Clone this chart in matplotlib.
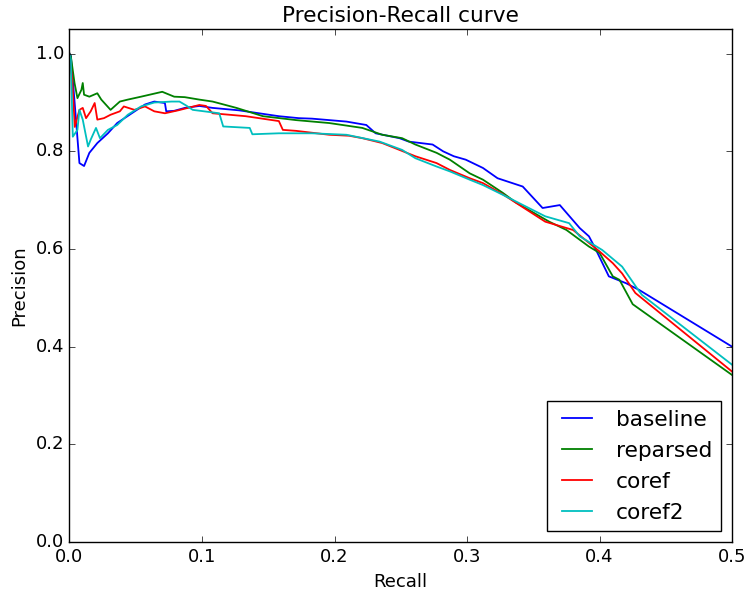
import matplotlib
matplotlib.use("Agg")
import matplotlib.pyplot as plt

plt.style.use("classic")
plt.rcParams["font.size"] = 13

labels = ["baseline", "reparsed", "coref", "coref2"]
colors = ["b", "g", "r", "c"]

baseline_r = [0.0, 0.001, 0.0025, 0.0075, 0.011, 0.015, 0.021, 0.029, 0.036, 0.047, 0.057, 0.064, 0.072,
              0.073, 0.079, 0.087, 0.098, 0.108, 0.128, 0.143, 0.158, 0.173, 0.183, 0.209, 0.224, 0.231,
              0.249, 0.256, 0.274, 0.282, 0.29, 0.299, 0.312, 0.323, 0.342, 0.357, 0.37, 0.385, 0.392,
              0.397, 0.407, 0.42, 0.43, 0.5]
baseline_p = [1.0, 0.996, 0.947, 0.776, 0.77, 0.797, 0.817, 0.837, 0.858, 0.878, 0.896, 0.902, 0.899,
              0.882, 0.883, 0.889, 0.893, 0.889, 0.884, 0.878, 0.872, 0.868, 0.867, 0.861, 0.854, 0.837,
              0.827, 0.82, 0.814, 0.80, 0.79, 0.783, 0.766, 0.745, 0.728, 0.684, 0.69, 0.643, 0.626,
              0.60, 0.544, 0.53, 0.516, 0.40]

reparsed_r = [0.0, 0.001, 0.0038, 0.006, 0.009, 0.01, 0.011, 0.015, 0.021, 0.024, 0.031, 0.038, 0.044,
              0.054, 0.07, 0.079, 0.087, 0.098, 0.108, 0.126, 0.146, 0.171, 0.196, 0.221, 0.236, 0.251,
              0.261, 0.277, 0.287, 0.302, 0.312, 0.327, 0.337, 0.362, 0.375, 0.392, 0.4, 0.41, 0.415,
              0.425, 0.5]
reparsed_p = [1.0, 0.995, 0.94, 0.909, 0.926, 0.94, 0.916, 0.912, 0.919, 0.906, 0.885, 0.902, 0.906,
              0.912, 0.922, 0.912, 0.911, 0.906, 0.902, 0.889, 0.872, 0.864, 0.858, 0.848, 0.834, 0.827,
              0.814, 0.797, 0.783, 0.755, 0.742, 0.715, 0.695, 0.656, 0.639, 0.605, 0.592, 0.544, 0.537,
              0.487, 0.342]

coref_r = [0.0, 0.002, 0.004, 0.0075, 0.01, 0.0125, 0.016, 0.019, 0.021, 0.026, 0.031, 0.038, 0.041,
           0.049, 0.057, 0.064, 0.072, 0.082, 0.098, 0.103, 0.108, 0.133, 0.158, 0.161, 0.171, 0.196,
           0.211, 0.221, 0.236, 0.261, 0.277, 0.287, 0.302, 0.312, 0.327, 0.359, 0.38, 0.4, 0.41,
           0.417, 0.427, 0.432, 0.5]
coref_p = [1.0, 0.95, 0.85, 0.885, 0.889, 0.868, 0.882, 0.899, 0.865, 0.868, 0.875, 0.882, 0.892,
           0.885, 0.892, 0.882, 0.878, 0.884, 0.895, 0.893, 0.878, 0.872, 0.862, 0.844, 0.842, 0.834,
           0.832, 0.827, 0.817, 0.79, 0.776, 0.762, 0.745, 0.735, 0.712, 0.656, 0.639, 0.595, 0.571,
           0.55, 0.51, 0.499, 0.349]

coref2_r = [0.0, 0.001, 0.0025, 0.006, 0.0075, 0.01, 0.014, 0.016, 0.02, 0.023, 0.029, 0.036, 0.044,
            0.054, 0.064, 0.077, 0.083, 0.088, 0.093, 0.113, 0.116, 0.136, 0.138, 0.158, 0.183, 0.209,
            0.234, 0.251, 0.261, 0.277, 0.287, 0.302, 0.312, 0.327, 0.359, 0.377, 0.385, 0.402, 0.417,
            0.43, 0.432, 0.5]
coref2_p = [1.0, 0.988, 0.83, 0.844, 0.885, 0.865, 0.81, 0.824, 0.848, 0.827, 0.844, 0.854, 0.875,
            0.892, 0.9, 0.902, 0.902, 0.894, 0.885, 0.878, 0.851, 0.848, 0.835, 0.837, 0.837, 0.834,
            0.82, 0.803, 0.786, 0.769, 0.759, 0.742, 0.731, 0.711, 0.667, 0.653, 0.626, 0.598, 0.564,
            0.513, 0.506, 0.363]

series = [(baseline_r, baseline_p), (reparsed_r, reparsed_p), (coref_r, coref_p), (coref2_r, coref2_p)]

fig = plt.figure(figsize=(7.44, 5.94), dpi=100)
fig.patch.set_facecolor("white")
ax = fig.add_axes([0.0934, 0.0875, 0.8906, 0.8632])
for (r, p), lab, c in zip(series, labels, colors):
    ax.plot(r, p, color=c, label=lab, linewidth=1.3)

ax.set_xlim(0, 0.5)
ax.set_ylim(0, 1.05)
ax.set_xticks([0.0, 0.1, 0.2, 0.3, 0.4, 0.5])
ax.set_yticks([0.0, 0.2, 0.4, 0.6, 0.8, 1.0])
ax.set_xlabel("Recall")
ax.set_ylabel("Precision")
ax.set_title("Precision-Recall curve")
ax.legend(loc="lower right")

fig.savefig("out.png", dpi=100, facecolor="white")
